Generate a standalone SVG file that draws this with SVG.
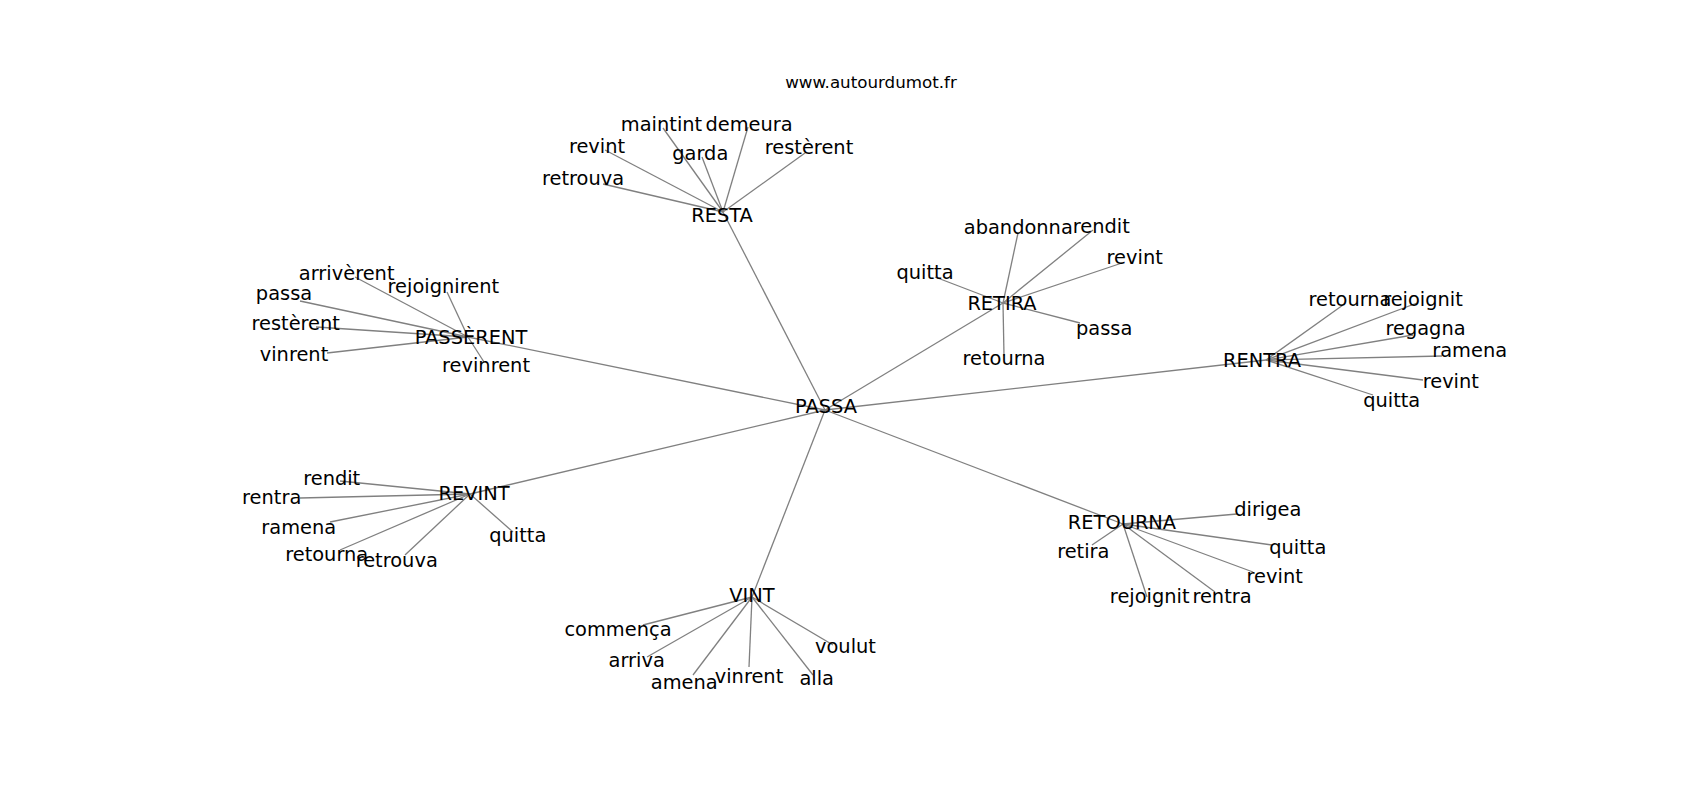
<svg xmlns="http://www.w3.org/2000/svg" width="1700" height="800" viewBox="0 0 1700 800">
<style>
  .e { stroke: #808080; stroke-width: 1.3; fill: none; }
  .t { font-family: "DejaVu Sans", "Liberation Sans", sans-serif; font-size: 19.4px; fill: #000; text-anchor: middle; }
  .title { font-family: "DejaVu Sans", "Liberation Sans", sans-serif; font-size: 16.7px; fill: #000; text-anchor: middle; }
</style>
<rect x="0" y="0" width="1700" height="800" fill="#ffffff"/>
<text class="title" x="871" y="88">www.autourdumot.fr</text>
<g id="edges">
  <!-- hub to hub -->
  <line class="e" x1="825" y1="410" x2="723" y2="212"/>
  <line class="e" x1="825" y1="410" x2="468" y2="337"/>
  <line class="e" x1="825" y1="410" x2="1003" y2="303"/>
  <line class="e" x1="825" y1="410" x2="1266" y2="360"/>
  <line class="e" x1="825" y1="410" x2="470" y2="494"/>
  <line class="e" x1="825" y1="410" x2="752" y2="597"/>
  <line class="e" x1="825" y1="410" x2="1123" y2="524"/>
  <!-- RESTA -->
  <line class="e" x1="723" y1="212" x2="603" y2="184"/>
  <line class="e" x1="723" y1="212" x2="605" y2="150"/>
  <line class="e" x1="723" y1="212" x2="663" y2="128"/>
  <line class="e" x1="723" y1="212" x2="748" y2="127"/>
  <line class="e" x1="723" y1="212" x2="702" y2="157"/>
  <line class="e" x1="723" y1="212" x2="805" y2="153"/>
  <!-- PASSERENT -->
  <line class="e" x1="468" y1="337" x2="355" y2="277"/>
  <line class="e" x1="468" y1="337" x2="447" y2="292"/>
  <line class="e" x1="468" y1="337" x2="300" y2="301"/>
  <line class="e" x1="468" y1="337" x2="316" y2="327"/>
  <line class="e" x1="468" y1="337" x2="327" y2="353"/>
  <line class="e" x1="468" y1="337" x2="484" y2="362"/>
  <!-- RETIRA -->
  <line class="e" x1="1003" y1="303" x2="1018" y2="233"/>
  <line class="e" x1="1003" y1="303" x2="1093" y2="230"/>
  <line class="e" x1="1003" y1="303" x2="935" y2="277"/>
  <line class="e" x1="1003" y1="303" x2="1122" y2="263"/>
  <line class="e" x1="1003" y1="303" x2="1080" y2="323"/>
  <line class="e" x1="1003" y1="303" x2="1004" y2="356"/>
  <!-- RENTRA -->
  <line class="e" x1="1266" y1="360" x2="1343" y2="305"/>
  <line class="e" x1="1266" y1="360" x2="1417" y2="303"/>
  <line class="e" x1="1266" y1="360" x2="1413" y2="335"/>
  <line class="e" x1="1266" y1="360" x2="1442" y2="356"/>
  <line class="e" x1="1266" y1="360" x2="1423" y2="380"/>
  <line class="e" x1="1266" y1="360" x2="1373" y2="395"/>
  <!-- REVINT -->
  <line class="e" x1="470" y1="494" x2="340" y2="481"/>
  <line class="e" x1="470" y1="494" x2="300" y2="498"/>
  <line class="e" x1="470" y1="494" x2="330" y2="522"/>
  <line class="e" x1="470" y1="494" x2="340" y2="550"/>
  <line class="e" x1="470" y1="494" x2="405" y2="555"/>
  <line class="e" x1="470" y1="494" x2="513" y2="532"/>
  <!-- VINT -->
  <line class="e" x1="752" y1="597" x2="643" y2="625"/>
  <line class="e" x1="752" y1="597" x2="647" y2="657"/>
  <line class="e" x1="752" y1="597" x2="693" y2="675"/>
  <line class="e" x1="752" y1="597" x2="749" y2="667"/>
  <line class="e" x1="752" y1="597" x2="813" y2="675"/>
  <line class="e" x1="752" y1="597" x2="833" y2="645"/>
  <!-- RETOURNA -->
  <line class="e" x1="1123" y1="524" x2="1237" y2="514"/>
  <line class="e" x1="1123" y1="524" x2="1092" y2="545"/>
  <line class="e" x1="1123" y1="524" x2="1272" y2="545"/>
  <line class="e" x1="1123" y1="524" x2="1253" y2="572"/>
  <line class="e" x1="1123" y1="524" x2="1147" y2="597"/>
  <line class="e" x1="1123" y1="524" x2="1215" y2="592"/>
</g>
<g id="n-passa"><text class="t" x="826" y="412.5">PASSA</text></g>
<g id="n-resta"><text class="t" x="722" y="222">RESTA</text></g>
<g id="n-resta-retrouva"><text class="t" x="583" y="185">retrouva</text></g>
<g id="n-resta-revint"><text class="t" x="597" y="152.7">revint</text></g>
<g id="n-resta-maintint"><text class="t" x="661.5" y="131">maintint</text></g>
<g id="n-resta-demeura"><text class="t" x="749" y="130.7">demeura</text></g>
<g id="n-resta-garda"><text class="t" x="700.3" y="160">garda</text></g>
<g id="n-resta-resterent"><text class="t" x="809" y="154.3">restèrent</text></g>
<g id="n-passerent"><text class="t" x="471" y="343.5">PASSÈRENT</text></g>
<g id="n-passerent-arriverent"><text class="t" x="346.7" y="280">arrivèrent</text></g>
<g id="n-passerent-rejoignirent"><text class="t" x="443.3" y="292.7">rejoignirent</text></g>
<g id="n-passerent-passa"><text class="t" x="284" y="300">passa</text></g>
<g id="n-passerent-resterent"><text class="t" x="295.7" y="330">restèrent</text></g>
<g id="n-passerent-vinrent"><text class="t" x="294" y="361">vinrent</text></g>
<g id="n-passerent-revinrent"><text class="t" x="486" y="371.7">revinrent</text></g>
<g id="n-retira"><text class="t" x="1002" y="310">RETIRA</text></g>
<g id="n-retira-abandonna"><text class="t" x="1018.3" y="234">abandonna</text></g>
<g id="n-retira-rendit"><text class="t" x="1101.3" y="232.7">rendit</text></g>
<g id="n-retira-quitta"><text class="t" x="925" y="279.3">quitta</text></g>
<g id="n-retira-revint"><text class="t" x="1134.7" y="264">revint</text></g>
<g id="n-retira-passa"><text class="t" x="1104.2" y="335">passa</text></g>
<g id="n-retira-retourna"><text class="t" x="1004" y="365">retourna</text></g>
<g id="n-rentra"><text class="t" x="1262" y="367.3">RENTRA</text></g>
<g id="n-rentra-retourna"><text class="t" x="1350" y="305.7">retourna</text></g>
<g id="n-rentra-rejoignit"><text class="t" x="1423" y="306">rejoignit</text></g>
<g id="n-rentra-regagna"><text class="t" x="1425.5" y="335">regagna</text></g>
<g id="n-rentra-ramena"><text class="t" x="1469.7" y="357.3">ramena</text></g>
<g id="n-rentra-revint"><text class="t" x="1450.8" y="388.3">revint</text></g>
<g id="n-rentra-quitta"><text class="t" x="1391.7" y="406.7">quitta</text></g>
<g id="n-revint"><text class="t" x="474" y="500">REVINT</text></g>
<g id="n-revint-rendit"><text class="t" x="331.7" y="485">rendit</text></g>
<g id="n-revint-rentra"><text class="t" x="271.7" y="504">rentra</text></g>
<g id="n-revint-ramena"><text class="t" x="298.8" y="534.3">ramena</text></g>
<g id="n-revint-retourna"><text class="t" x="326.7" y="560.7">retourna</text></g>
<g id="n-revint-retrouva"><text class="t" x="396.7" y="566.7">retrouva</text></g>
<g id="n-revint-quitta"><text class="t" x="517.8" y="541.7">quitta</text></g>
<g id="n-vint"><text class="t" x="752" y="601.7">VINT</text></g>
<g id="n-vint-commenca"><text class="t" x="618" y="635.7">commença</text></g>
<g id="n-vint-arriva"><text class="t" x="636.7" y="667.3">arriva</text></g>
<g id="n-vint-amena"><text class="t" x="684.2" y="689">amena</text></g>
<g id="n-vint-vinrent"><text class="t" x="749" y="682.7">vinrent</text></g>
<g id="n-vint-alla"><text class="t" x="816.7" y="685">alla</text></g>
<g id="n-vint-voulut"><text class="t" x="845.5" y="653.3">voulut</text></g>
<g id="n-retourna"><text class="t" x="1122" y="529.3">RETOURNA</text></g>
<g id="n-retourna-dirigea"><text class="t" x="1267.8" y="516">dirigea</text></g>
<g id="n-retourna-retira"><text class="t" x="1083.3" y="557.7">retira</text></g>
<g id="n-retourna-quitta"><text class="t" x="1297.8" y="554.3">quitta</text></g>
<g id="n-retourna-revint"><text class="t" x="1274.7" y="582.7">revint</text></g>
<g id="n-retourna-rejoignit"><text class="t" x="1149.7" y="603.3">rejoignit</text></g>
<g id="n-retourna-rentra"><text class="t" x="1222" y="603.3">rentra</text></g>
</svg>
